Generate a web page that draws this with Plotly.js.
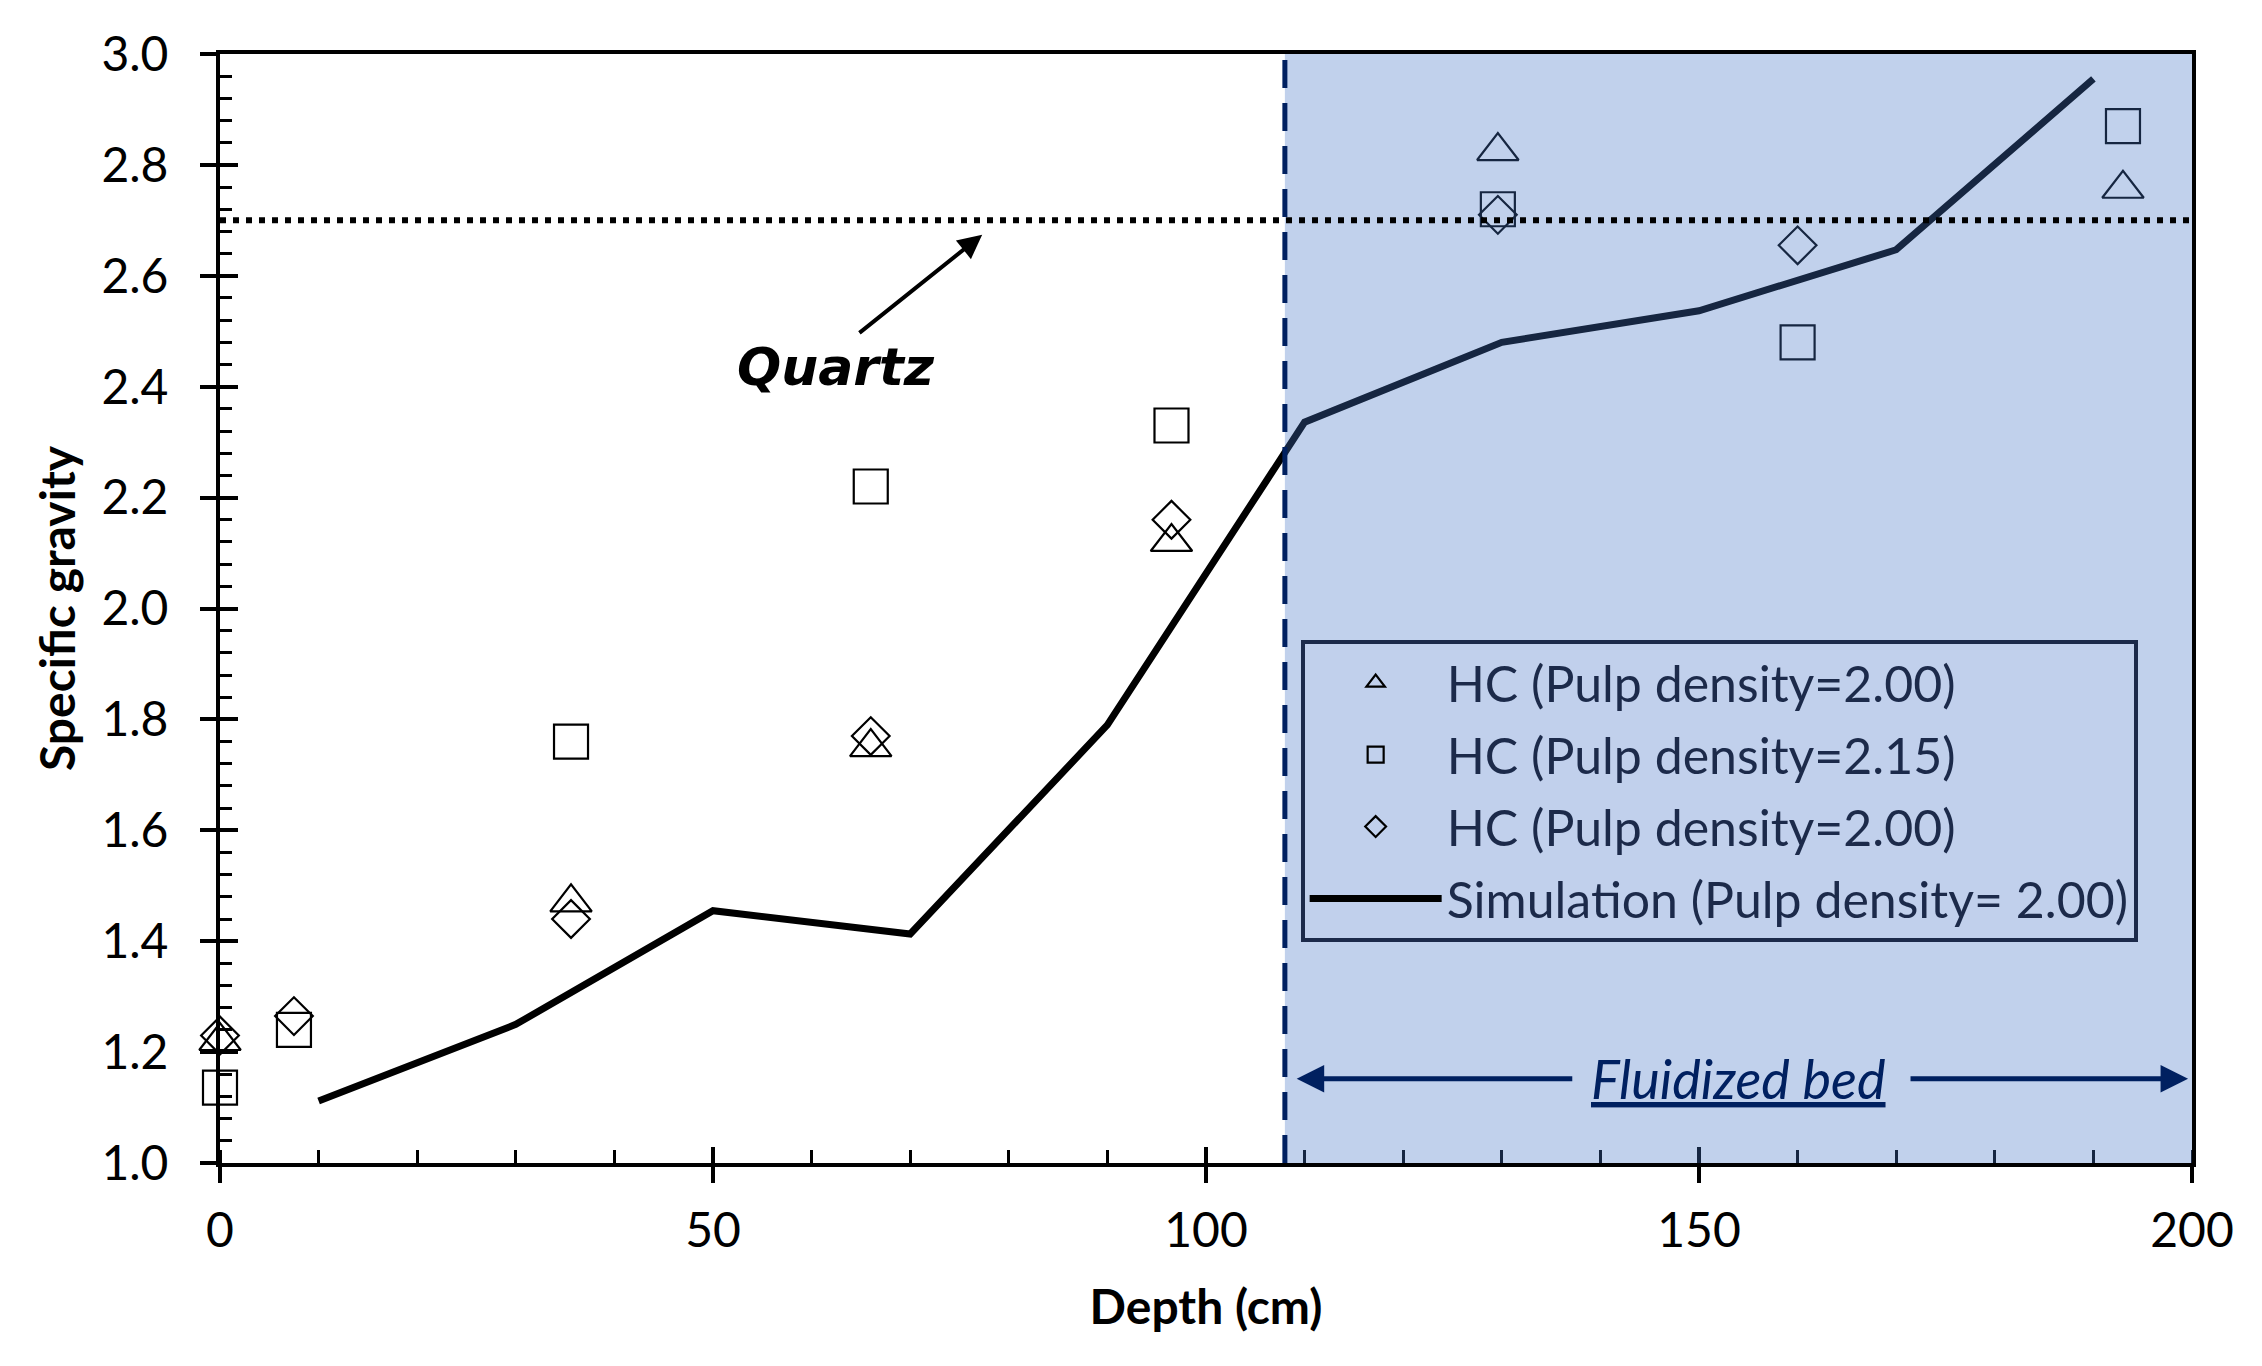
<!DOCTYPE html>
<html>
<head>
<meta charset="utf-8">
<script src="https://cdn.plot.ly/plotly-3.0.1.min.js"></script>
<style>
  html, body { margin: 0; padding: 0; background: #fff; }
  #crtGravity { width: 2262px; height: 1366px; }
</style>
</head>
<body>
<div id="crtGravity"></div>
<script>
var depthTri = [0, 35.6, 66, 96.5, 129.6, 193];
var sgTri = [1.22, 1.47, 1.75, 2.12, 2.825, 2.757];

var depthSq = [0, 7.5, 35.6, 66, 96.5, 129.6, 160, 193];
var sgSq = [1.136, 1.24, 1.76, 2.22, 2.33, 2.72, 2.48, 2.87];

var depthDia = [0, 7.5, 35.6, 66, 96.5, 129.6, 160];
var sgDia = [1.23, 1.265, 1.44, 1.77, 2.16, 2.71, 2.655];

// simulation curve
var depthSim = [10, 30, 50, 70, 90, 110, 130, 150, 170, 190];
var sgSim = [1.112, 1.25, 1.455, 1.413, 1.79, 2.336, 2.48, 2.537, 2.647, 2.955];

var seriesNames = ["HC (Pulp density=2.00)", "HC (Pulp density=2.15)", "HC (Pulp density=2.00)", "Simulation (Pulp density= 2.00)"];

var quartzSG = 2.7;
var bedStart = 108;
var xRange = [0, 200];
var yRange = [1.0, 3.0];

var sans = "Lato, 'Open Sans', sans-serif";
var navy = "#1c2a4a";

// minor y ticks every 0.04 (plotly drops a 0.04 dtick against 0.2 majors)
var yMinor = [];
for (var i = 0; i <= 50; i++) {
	if (i % 5 !== 0) yMinor.push(+(yRange[0] + i * 0.04).toFixed(2));
}

var markerTrace = function(x, y, name, symbol, size, group) {
	return {
		x: x,
		y: y,
		name: name,
		legendgroup: group,
		type: 'scatter',
		mode: 'markers',
		cliponaxis: false,
		marker: { symbol: symbol, size: size, color: '#000', line: { width: 2.2, color: '#000' } }
	};
};

var data = [
	markerTrace(depthTri, sgTri, seriesNames[0], 'triangle-up-open', 36, 'a'),
	markerTrace(depthSq, sgSq, seriesNames[1], 'square-open', 34, 'b'),
	markerTrace(depthDia, sgDia, seriesNames[2], 'diamond-open', 29, 'c'),
	{
		x: depthSim,
		y: sgSim,
		name: seriesNames[3],
		legendgroup: 'd',
		type: 'scatter',
		mode: 'lines',
		xaxis: 'x2',
		yaxis: 'y2',
		line: { color: '#000', width: 7 }
	}
];

var layout = {
	width: 2262,
	height: 1366,
	paper_bgcolor: '#fff',
	plot_bgcolor: '#fff',
	showlegend: true,
	margin: { l: 220, r: 70, t: 54, b: 203, pad: 0 },
	font: { family: sans, size: 48, color: '#000' },
	xaxis: {
		range: xRange,
		dtick: 50,
		showgrid: false,
		zeroline: false,
		showline: true,
		linecolor: '#000',
		linewidth: 4,
		mirror: true,
		ticks: 'outside',
		ticklen: 16,
		tickwidth: 4,
		tickcolor: '#000',
		ticklabelstandoff: 6,
		tickfont: { family: sans, size: 48 },
		minor: { dtick: 10, ticks: 'inside', ticklen: 13, tickwidth: 3, tickcolor: '#000' },
		title: { text: '<b>Depth (cm)</b>', font: { family: sans, size: 48 }, standoff: 36 }
	},
	yaxis: {
		range: yRange,
		dtick: 0.2,
		tickformat: '.1f',
		showgrid: false,
		zeroline: false,
		showline: true,
		linecolor: '#000',
		linewidth: 4,
		mirror: true,
		ticks: 'outside',
		ticklen: 16,
		tickwidth: 4,
		tickcolor: '#000',
		ticklabelstandoff: 22,
		tickfont: { family: sans, size: 48 },
		minor: { tickmode: 'array', tickvals: yMinor, ticks: 'inside', ticklen: 12, tickwidth: 3, tickcolor: '#000' },
		title: { text: '<b>Specific gravity</b>', font: { family: sans, size: 48 }, standoff: 12 }
	},
	// overlay axes only draw the inner half of the major ticks
	xaxis2: {
		overlaying: 'x',
		anchor: 'y2',
		range: xRange,
		dtick: 50,
		showgrid: false,
		zeroline: false,
		showline: false,
		showticklabels: false,
		ticks: 'inside',
		ticklen: 16,
		tickwidth: 4,
		tickcolor: '#000'
	},
	yaxis2: {
		overlaying: 'y',
		anchor: 'x2',
		range: yRange,
		dtick: 0.2,
		showgrid: false,
		zeroline: false,
		showline: false,
		showticklabels: false,
		ticks: 'inside',
		ticklen: 18,
		tickwidth: 4,
		tickcolor: '#000'
	},
	legend: {
		x: 0.548,
		y: 0.472,
		xanchor: 'left',
		yanchor: 'top',
		bgcolor: 'rgb(193,208,236)',
		bordercolor: navy,
		borderwidth: 4,
		traceorder: 'grouped',
		tracegroupgap: 4,
		itemwidth: 132,
		font: { family: sans, size: 50, color: navy }
	},
	shapes: [
		{
			// fluidized bed zone, drawn translucent over the data
			type: 'rect', xref: 'x', yref: 'y', layer: 'above',
			x0: bedStart, x1: xRange[1], y0: yRange[0], y1: yRange[1],
			fillcolor: 'rgba(68,114,196,0.33)',
			line: { width: 0 }
		},
		{
			type: 'line', xref: 'x', yref: 'y', layer: 'above',
			x0: xRange[0], x1: xRange[1], y0: quartzSG, y1: quartzSG,
			line: { color: '#000', width: 6, dash: '6px,7px' }
		},
		{
			type: 'line', xref: 'x', yref: 'y', layer: 'above',
			x0: bedStart, x1: bedStart, y0: yRange[0], y1: yRange[1],
			line: { color: '#002060', width: 5, dash: '28px,15px' }
		}
	],
	annotations: [
		{
			xref: 'x', yref: 'y', axref: 'x', ayref: 'y',
			x: 77.3, y: 2.674, ax: 64.7, ay: 2.495,
			text: '', showarrow: true,
			arrowhead: 2, arrowsize: 1.2, arrowwidth: 4, arrowcolor: '#000'
		},
		{
			xref: 'x', yref: 'y',
			x: 62.5, y: 2.435,
			text: '<b><i>Quartz</i></b>', showarrow: false,
			font: { family: "'DejaVu Sans', sans-serif", size: 52, color: '#000' }
		},
		{
			xref: 'x', yref: 'y',
			x: 154, y: 1.152,
			text: '<i><u>Fluidized bed</u></i>', showarrow: false,
			font: { family: sans, size: 54, color: '#002060' }
		},
		{
			xref: 'x', yref: 'y', axref: 'x', ayref: 'y',
			x: 109.2, y: 1.152, ax: 137.3, ay: 1.152,
			text: '', showarrow: true,
			arrowhead: 2, arrowsize: 1.1, arrowwidth: 5, arrowcolor: '#002060'
		},
		{
			xref: 'x', yref: 'y', axref: 'x', ayref: 'y',
			x: 199.6, y: 1.152, ax: 171.3, ay: 1.152,
			text: '', showarrow: true,
			arrowhead: 2, arrowsize: 1.1, arrowwidth: 5, arrowcolor: '#002060'
		}
	]
};

Plotly.newPlot('crtGravity', data, layout, { staticPlot: true });
</script>
</body>
</html>
